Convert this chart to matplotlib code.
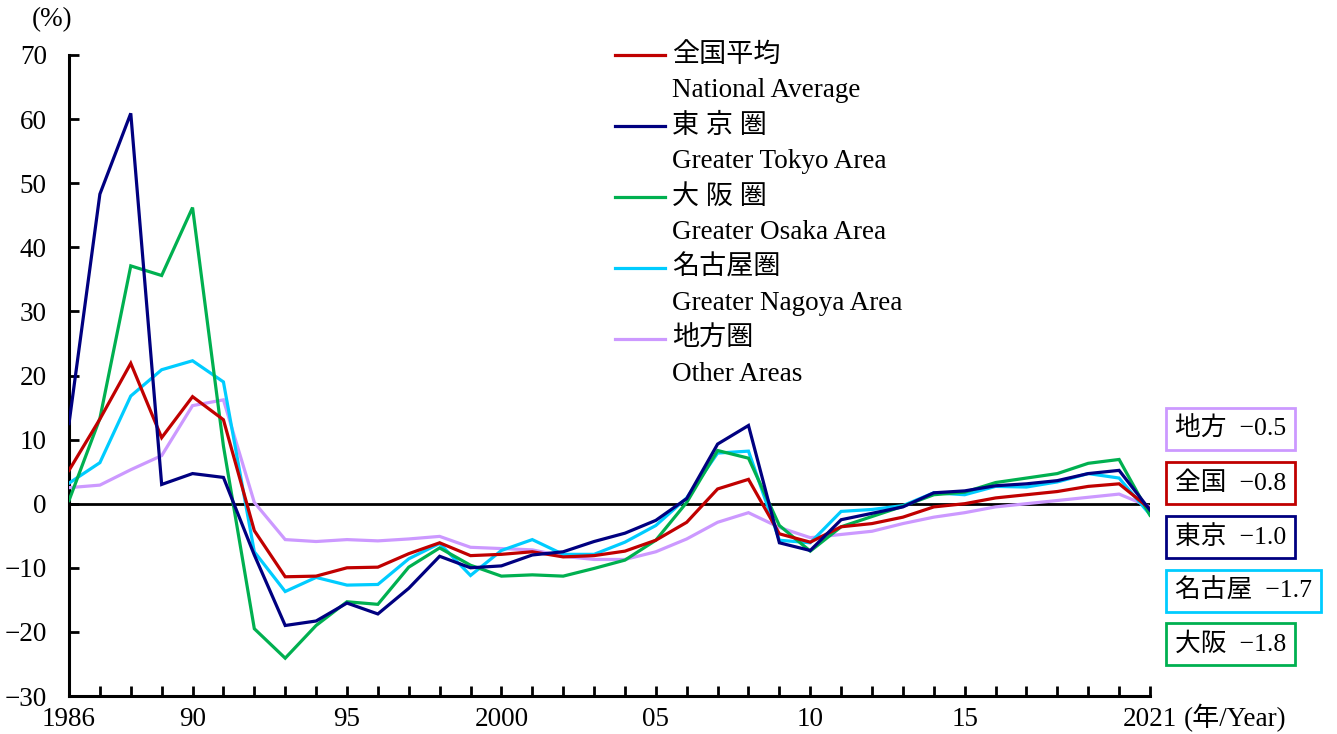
import matplotlib
matplotlib.use("Agg")
import matplotlib.pyplot as plt
import numpy as np

years = list(range(1986, 2022))

national = [5.2, 13.2, 21.9, 10.3, 16.7, 13.1, -4.2, -11.4, -11.3, -10.0, -9.9, -7.8, -6.1,
            -8.1, -7.9, -7.5, -8.3, -8.1, -7.4, -5.7, -2.9, 2.3, 3.8, -4.7, -6.0, -3.6, -3.1,
            -2.1, -0.5, 0.0, 0.9, 1.4, 1.9, 2.7, 3.1, -0.8]
tokyo = [12.5, 48.3, 60.9, 3.0, 4.7, 4.1, -8.0, -19.0, -18.3, -15.5, -17.2, -13.2, -8.2,
         -10.0, -9.7, -8.0, -7.5, -5.9, -4.6, -2.6, 0.8, 9.3, 12.2, -6.1, -7.3, -2.5, -1.5,
         -0.5, 1.7, 2.0, 2.8, 3.1, 3.6, 4.7, 5.2, -1.0]
osaka = [0.5, 13.3, 37.1, 35.6, 46.2, 9.0, -19.5, -24.1, -19.0, -15.3, -15.7, -9.9, -6.9,
         -9.6, -11.3, -11.1, -11.3, -10.1, -8.8, -5.7, 0.2, 8.3, 7.1, -3.4, -7.4, -3.6, -2.0,
         -0.4, 1.4, 1.8, 3.3, 4.0, 4.7, 6.3, 6.9, -1.8]
nagoya = [3.2, 6.4, 16.8, 20.9, 22.3, 19.0, -7.5, -13.7, -11.5, -12.7, -12.6, -8.6, -6.2,
          -11.2, -7.3, -5.6, -7.9, -7.9, -6.0, -3.4, 0.9, 7.9, 8.2, -5.7, -6.1, -1.2, -0.9,
          -0.3, 1.7, 1.4, 2.7, 2.6, 3.4, 4.7, 4.0, -1.7]
other = [2.5, 2.9, 5.3, 7.5, 15.3, 16.2, 0.2, -5.6, -5.9, -5.6, -5.8, -5.5, -5.1,
         -6.8, -7.0, -7.2, -8.2, -8.7, -8.7, -7.5, -5.5, -2.9, -1.4, -3.7, -5.3, -4.8, -4.3,
         -3.1, -2.1, -1.4, -0.5, 0.0, 0.5, 1.0, 1.5, -0.5]

series_jp = ["全国平均", "東 京 圏", "大 阪 圏", "名古屋圏", "地方圏"]
series_en = ["National Average", "Greater Tokyo Area", "Greater Osaka Area",
             "Greater Nagoya Area", "Other Areas"]
colors = ["#C00000", "#000080", "#00B050", "#00CCFF", "#CC99FF"]

box_labels = ["地方  −0.5", "全国  −0.8", "東京  −1.0", "名古屋  −1.7", "大阪  −1.8"]
box_colors = ["#CC99FF", "#C00000", "#000080", "#00CCFF", "#00B050"]

xtick_years = [1986, 1990, 1995, 2000, 2005, 2010, 2015, 2021]
xtick_labels = ["1986", "90", "95", "2000", "05", "10", "15", "2021"]
yticks = [-30, -20, -10, 0, 10, 20, 30, 40, 50, 60, 70]

FAM = ["Liberation Serif", "Noto Sans CJK JP", "DejaVu Sans"]
plt.rcParams["font.family"] = FAM
plt.rcParams["axes.unicode_minus"] = True

FS = 19.5
W, H = 1337, 734
fig = plt.figure(figsize=(W / 100, H / 100), dpi=100)
ax = fig.add_axes([69 / W, 1 - 696 / H, (1150 - 69) / W, (696 - 55) / H])

data = [national, tokyo, osaka, nagoya, other]
order = [4, 3, 2, 0, 1]
for i in order:
    ax.plot(years, data[i], color=colors[i], lw=2.3, zorder=3, solid_joinstyle="miter")

ax.axhline(0, color="black", lw=2.0, zorder=2)

ax.set_xlim(1986, 2021)
ax.set_ylim(-30, 70)
for s in ["top", "right"]:
    ax.spines[s].set_visible(False)
for s in ["left", "bottom"]:
    ax.spines[s].set_linewidth(2.2)

ax.set_yticks(yticks)
ax.set_yticklabels([("−" if v < 0 else "") + str(abs(v)) for v in yticks])
ax.set_xticks(xtick_years)
ax.set_xticklabels(xtick_labels)
ax.set_xticks(years, minor=True)
ax.tick_params(axis="both", which="both", direction="in", length=7, width=2, labelsize=FS)
ax.tick_params(axis="y", pad=16)
ax.tick_params(axis="x", which="both", pad=8)

fig.text(1184 / W, 1 - 718 / H, "(年/Year)", fontsize=FS, ha="left", va="center")
fig.text(52 / W, 1 - 20 / H, "(%)", fontsize=FS, ha="center", va="center")

# legend
row0 = 55
step = 35.5
for i in range(5):
    yj = row0 + 2 * i * step
    ye = yj + step
    fig.add_artist(plt.Line2D([615 / W, 665 / W], [1 - yj / H, 1 - yj / H],
                              color=colors[i], lw=2.3, transform=fig.transFigure))
    fig.text(672 / W, 1 - yj / H, series_jp[i], fontsize=FS, ha="left", va="center")
    fig.text(672 / W, 1 - ye / H, series_en[i], fontsize=FS, ha="left", va="center")

# right-hand boxes
box_y = [429, 483, 537, 591, 644]
for lab, col, yy in zip(box_labels, box_colors, box_y):
    fig.text(1175 / W, 1 - yy / H, lab, fontsize=18.5, ha="left", va="center",
             bbox=dict(boxstyle="square,pad=0.35", fc="white", ec=col, lw=2))

fig.savefig("out.png", dpi=100)
